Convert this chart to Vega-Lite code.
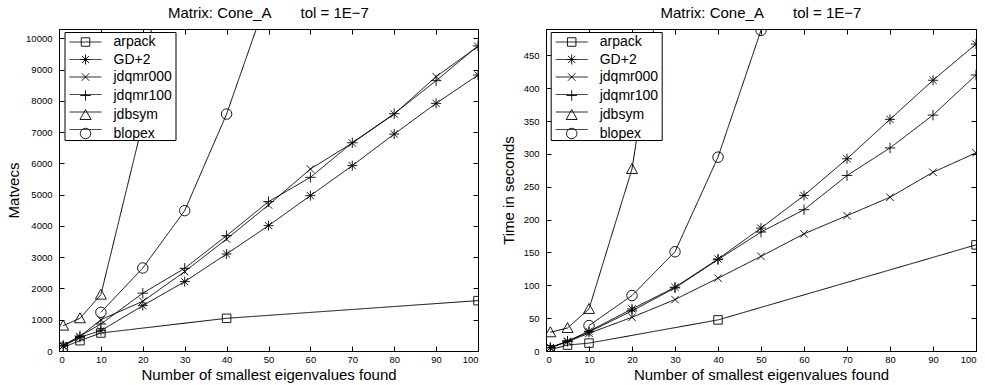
{
  "$schema": "https://vega.github.io/schema/vega-lite/v6.json",
  "padding": {"left": 6, "top": 5, "right": 5, "bottom": 5},
  "bounds": "flush",
  "spacing": 68,
  "config": {
    "font": "Liberation Sans",
    "view": {"stroke": "black", "strokeWidth": 1},
    "axis": {"grid": false, "domain": false, "ticks": true, "tickColor": "black", "labelColor": "black", "titleColor": "black", "labelFontSize": 9.5, "titleFontSize": 15, "titleFontWeight": "normal", "tickSize": 5, "offset": -5, "labelPadding": 3, "tickWidth": 1, "format": "d"},
    "axisLeft": {"labelPadding": 7},
    "title": {"fontSize": 15, "fontWeight": "normal", "color": "black", "offset": 8},
    "style": {"group-title": {"fontSize": 15, "fontWeight": "normal", "font": "Liberation Sans"}},
    "legend": {"labelFontSize": 14, "labelColor": "black", "title": null, "orient": "none", "legendY": 3, "padding": 3, "rowPadding": 3.5, "symbolSize": 100, "symbolOffset": 11, "labelOffset": 21, "symbolStrokeWidth": 0.9, "symbolStrokeColor": "black", "symbolFillColor": "transparent"}
  },
  "datasets": {
    "mv": [
      {"n": 1, "method": "arpack", "value": 120}, {"n": 5, "method": "arpack", "value": 330}, {"n": 10, "method": "arpack", "value": 576}, {"n": 40, "method": "arpack", "value": 1046}, {"n": 100, "method": "arpack", "value": 1611},
      {"n": 1, "method": "GD+2", "value": 160}, {"n": 5, "method": "GD+2", "value": 440}, {"n": 10, "method": "GD+2", "value": 650}, {"n": 20, "method": "GD+2", "value": 1451}, {"n": 30, "method": "GD+2", "value": 2219}, {"n": 40, "method": "GD+2", "value": 3103}, {"n": 50, "method": "GD+2", "value": 4010}, {"n": 60, "method": "GD+2", "value": 4970}, {"n": 70, "method": "GD+2", "value": 5929}, {"n": 80, "method": "GD+2", "value": 6940}, {"n": 90, "method": "GD+2", "value": 7921}, {"n": 100, "method": "GD+2", "value": 8826},
      {"n": 1, "method": "jdqmr000", "value": 170}, {"n": 5, "method": "jdqmr000", "value": 460}, {"n": 10, "method": "jdqmr000", "value": 1000}, {"n": 20, "method": "jdqmr000", "value": 1590}, {"n": 30, "method": "jdqmr000", "value": 2539}, {"n": 40, "method": "jdqmr000", "value": 3582}, {"n": 50, "method": "jdqmr000", "value": 4670}, {"n": 60, "method": "jdqmr000", "value": 5820}, {"n": 70, "method": "jdqmr000", "value": 6652}, {"n": 80, "method": "jdqmr000", "value": 7580}, {"n": 90, "method": "jdqmr000", "value": 8775}, {"n": 100, "method": "jdqmr000", "value": 9744},
      {"n": 1, "method": "jdqmr100", "value": 180}, {"n": 5, "method": "jdqmr100", "value": 480}, {"n": 10, "method": "jdqmr100", "value": 864}, {"n": 20, "method": "jdqmr100", "value": 1850}, {"n": 30, "method": "jdqmr100", "value": 2645}, {"n": 40, "method": "jdqmr100", "value": 3690}, {"n": 50, "method": "jdqmr100", "value": 4777}, {"n": 60, "method": "jdqmr100", "value": 5555}, {"n": 70, "method": "jdqmr100", "value": 6660}, {"n": 80, "method": "jdqmr100", "value": 7590}, {"n": 90, "method": "jdqmr100", "value": 8647}, {"n": 100, "method": "jdqmr100", "value": 9760},
      {"n": 1, "method": "jdbsym", "value": 812}, {"n": 5, "method": "jdbsym", "value": 1046}, {"n": 10, "method": "jdbsym", "value": 1803}, {"n": 20, "method": "jdbsym", "value": 7300}, {"n": 30, "method": "jdbsym", "value": 22000},
      {"n": 10, "method": "blopex", "value": 1238}, {"n": 20, "method": "blopex", "value": 2655}, {"n": 30, "method": "blopex", "value": 4490}, {"n": 40, "method": "blopex", "value": 7580}, {"n": 50, "method": "blopex", "value": 11420}
    ],
    "time": [
      {"n": 1, "method": "arpack", "value": 2}, {"n": 5, "method": "arpack", "value": 9}, {"n": 10, "method": "arpack", "value": 12}, {"n": 40, "method": "arpack", "value": 47.3}, {"n": 100, "method": "arpack", "value": 161.5},
      {"n": 1, "method": "GD+2", "value": 5}, {"n": 5, "method": "GD+2", "value": 15}, {"n": 10, "method": "GD+2", "value": 30}, {"n": 20, "method": "GD+2", "value": 64}, {"n": 30, "method": "GD+2", "value": 97}, {"n": 40, "method": "GD+2", "value": 140}, {"n": 50, "method": "GD+2", "value": 187}, {"n": 60, "method": "GD+2", "value": 236.7}, {"n": 70, "method": "GD+2", "value": 292.5}, {"n": 80, "method": "GD+2", "value": 352.5}, {"n": 90, "method": "GD+2", "value": 412}, {"n": 100, "method": "GD+2", "value": 467},
      {"n": 1, "method": "jdqmr000", "value": 5}, {"n": 5, "method": "jdqmr000", "value": 14}, {"n": 10, "method": "jdqmr000", "value": 27}, {"n": 20, "method": "jdqmr000", "value": 51.3}, {"n": 30, "method": "jdqmr000", "value": 78.3}, {"n": 40, "method": "jdqmr000", "value": 110.8}, {"n": 50, "method": "jdqmr000", "value": 144}, {"n": 60, "method": "jdqmr000", "value": 178.3}, {"n": 70, "method": "jdqmr000", "value": 206}, {"n": 80, "method": "jdqmr000", "value": 234}, {"n": 90, "method": "jdqmr000", "value": 272}, {"n": 100, "method": "jdqmr000", "value": 301.6},
      {"n": 1, "method": "jdqmr100", "value": 5}, {"n": 5, "method": "jdqmr100", "value": 15}, {"n": 10, "method": "jdqmr100", "value": 29}, {"n": 20, "method": "jdqmr100", "value": 61}, {"n": 30, "method": "jdqmr100", "value": 96}, {"n": 40, "method": "jdqmr100", "value": 139}, {"n": 50, "method": "jdqmr100", "value": 181}, {"n": 60, "method": "jdqmr100", "value": 215}, {"n": 70, "method": "jdqmr100", "value": 267}, {"n": 80, "method": "jdqmr100", "value": 309}, {"n": 90, "method": "jdqmr100", "value": 359}, {"n": 100, "method": "jdqmr100", "value": 420},
      {"n": 1, "method": "jdbsym", "value": 28.5}, {"n": 5, "method": "jdbsym", "value": 35}, {"n": 10, "method": "jdbsym", "value": 64}, {"n": 20, "method": "jdbsym", "value": 277}, {"n": 30, "method": "jdbsym", "value": 700},
      {"n": 10, "method": "blopex", "value": 38.7}, {"n": 20, "method": "blopex", "value": 84.4}, {"n": 30, "method": "blopex", "value": 151}, {"n": 40, "method": "blopex", "value": 295}, {"n": 50, "method": "blopex", "value": 488}
    ]
  },
  "resolve": {"scale": {"shape": "independent", "strokeDash": "independent"}, "legend": {"shape": "independent", "strokeDash": "independent"}},
  "hconcat": [
    {
      "width": 419, "height": 322,
      "title": {"text": "Matrix: Cone_A\u00a0\u00a0\u00a0\u00a0\u00a0\u00a0\u00a0tol = 1E−7", "fontSize": 15, "fontWeight": "normal", "offset": 8},
      "data": {"name": "mv"},
      "resolve": {"axis": {"x": "independent", "y": "independent"}},
      "layer": [
        {
          "mark": {"type": "line", "clip": true, "color": "black", "strokeWidth": 1},
          "encoding": {
            "x": {"field": "n", "type": "quantitative", "scale": {"domain": [0, 100], "nice": false}, "axis": {"values": [0,10,20,30,40,50,60,70,80,90,100], "title": "Number of smallest eigenvalues found"}},
            "y": {"field": "value", "type": "quantitative", "scale": {"domain": [0, 10300], "nice": false}, "axis": {"values": [0,1000,2000,3000,4000,5000,6000,7000,8000,9000,10000], "title": "Matvecs", "titlePadding": 4}},
            "strokeDash": {"field": "method", "type": "nominal",
              "scale": {"domain": ["arpack", "GD+2", "jdqmr000", "jdqmr100", "jdbsym", "blopex", "none"], "range": [[1,0],[1,0],[1,0],[1,0],[1,0],[1,0],[1,0]]},
              "legend": {"values": ["arpack", "GD+2", "jdqmr000", "jdqmr100", "jdbsym", "blopex"], "legendX": 5.5, "legendY": 3, "fillColor": "white", "strokeColor": "black", "symbolType": "M-3.2,0H3.2", "zindex": 1, "labelOpacity": 0, "labelFontSize": 14, "labelOffset": 21, "symbolOffset": 11, "rowPadding": 3.5, "padding": 3}
            }
          }
        },
        {
          "mark": {"type": "point", "clip": true, "filled": false, "stroke": "black", "strokeWidth": 0.9, "size": 100, "opacity": 1},
          "encoding": {
            "x": {"field": "n", "type": "quantitative", "axis": {"orient": "top", "values": [0,10,20,30,40,50,60,70,80,90,100], "labels": false, "title": null}},
            "y": {"field": "value", "type": "quantitative", "axis": {"orient": "right", "values": [0,1000,2000,3000,4000,5000,6000,7000,8000,9000,10000], "labels": false, "title": null}},
            "shape": {"field": "method", "type": "nominal",
              "scale": {"domain": ["arpack", "GD+2", "jdqmr000", "jdqmr100", "jdbsym", "blopex"],
                "range": ["M-0.85,-0.85H0.85V0.85H-0.85Z", "M-1,0H1M0,-1V1M-0.72,-0.72L0.72,0.72M-0.72,0.72L0.72,-0.72", "M-0.75,-0.75L0.75,0.75M-0.75,0.75L0.75,-0.75", "M-1.05,0H1.05M0,-1.05V1.05", "M0,-1.1L1.1,0.9H-1.1Z", "M1.05,0A1.05,1.05,0,1,1,-1.05,0A1.05,1.05,0,1,1,1.05,0Z"]},
              "legend": {"legendX": 5.5, "legendY": 3, "zindex": 2, "labelFontSize": 14, "labelOffset": 21, "symbolOffset": 11, "rowPadding": 3.5, "padding": 3}
            }
          }
        }
      ]
    },
    {
      "width": 430, "height": 322,
      "title": {"text": "Matrix: Cone_A\u00a0\u00a0\u00a0\u00a0\u00a0\u00a0\u00a0tol = 1E−7", "fontSize": 15, "fontWeight": "normal", "offset": 8},
      "data": {"name": "time"},
      "resolve": {"axis": {"x": "independent", "y": "independent"}},
      "layer": [
        {
          "mark": {"type": "line", "clip": true, "color": "black", "strokeWidth": 1},
          "encoding": {
            "x": {"field": "n", "type": "quantitative", "scale": {"domain": [0, 100], "nice": false}, "axis": {"values": [0,10,20,30,40,50,60,70,80,90,100], "title": "Number of smallest eigenvalues found"}},
            "y": {"field": "value", "type": "quantitative", "scale": {"domain": [0, 490], "nice": false}, "axis": {"values": [0,50,100,150,200,250,300,350,400,450], "title": "Time in seconds", "titlePadding": 7}},
            "strokeDash": {"field": "method", "type": "nominal",
              "scale": {"domain": ["arpack", "GD+2", "jdqmr000", "jdqmr100", "jdbsym", "blopex", "none"], "range": [[1,0],[1,0],[1,0],[1,0],[1,0],[1,0],[1,0]]},
              "legend": {"values": ["arpack", "GD+2", "jdqmr000", "jdqmr100", "jdbsym", "blopex"], "legendX": 4.7, "legendY": 3, "fillColor": "white", "strokeColor": "black", "symbolType": "M-3.2,0H3.2", "zindex": 1, "labelOpacity": 0, "labelFontSize": 14, "labelOffset": 21, "symbolOffset": 11, "rowPadding": 3.5, "padding": 3}
            }
          }
        },
        {
          "mark": {"type": "point", "clip": true, "filled": false, "stroke": "black", "strokeWidth": 0.9, "size": 100, "opacity": 1},
          "encoding": {
            "x": {"field": "n", "type": "quantitative", "axis": {"orient": "top", "values": [0,10,20,30,40,50,60,70,80,90,100], "labels": false, "title": null}},
            "y": {"field": "value", "type": "quantitative", "axis": {"orient": "right", "values": [0,50,100,150,200,250,300,350,400,450], "labels": false, "title": null}},
            "shape": {"field": "method", "type": "nominal",
              "scale": {"domain": ["arpack", "GD+2", "jdqmr000", "jdqmr100", "jdbsym", "blopex"],
                "range": ["M-0.85,-0.85H0.85V0.85H-0.85Z", "M-1,0H1M0,-1V1M-0.72,-0.72L0.72,0.72M-0.72,0.72L0.72,-0.72", "M-0.75,-0.75L0.75,0.75M-0.75,0.75L0.75,-0.75", "M-1.05,0H1.05M0,-1.05V1.05", "M0,-1.1L1.1,0.9H-1.1Z", "M1.05,0A1.05,1.05,0,1,1,-1.05,0A1.05,1.05,0,1,1,1.05,0Z"]},
              "legend": {"legendX": 4.7, "legendY": 3, "zindex": 2, "labelFontSize": 14, "labelOffset": 21, "symbolOffset": 11, "rowPadding": 3.5, "padding": 3}
            }
          }
        }
      ]
    }
  ]
}
